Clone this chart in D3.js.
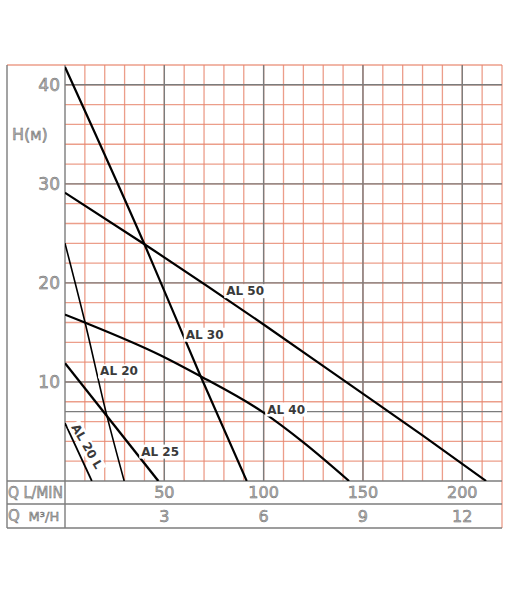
<!DOCTYPE html>
<html>
<head>
<meta charset="utf-8">
<script src="https://cdn.jsdelivr.net/npm/d3@7"></script>
<style>
  body { margin: 0; background: #fff; }
  text { font-family: "DejaVu Sans", sans-serif; }
  .tick-num { fill: #b4b4b4; stroke: #6a6a6a; stroke-width: 0.5px; }
  .curve-label { fill: #3a3a3a; font-weight: bold; font-size: 12px; }
</style>
</head>
<body>
<div id="chart"></div>
<script>
// pump curves, [Q l/min, H m]
const al50 = [[0, 29.1], [40, 23.9], [100, 15.8], [140, 10.2], [180, 4.6], [212, 0]];
const al30 = [[0, 41.8], [40, 23.9], [68, 10.7], [91.5, 0]];
const al40 = [[0, 16.8], [10, 16.0], [48, 12.7], [68, 10.6], [100, 6.9], [120, 3.9], [143, 0]];
const al20 = [[0, 24], [10.1, 16], [20.7, 6.9], [29.8, 0]];
const al25 = [[0, 11.9], [47, 0]];
const al20L = [[0, 5.85], [13.5, 0]];

const hTicks = [10, 20, 30, 40];
const hExtra = [7];
const qTicks = [50, 100, 150, 200];
const m3Ticks = ["3", "6", "9", "12"];

const series = [
  { name: "AL 50", pts: al50, w: 2.2 },
  { name: "AL 30", pts: al30, w: 2.2 },
  { name: "AL 40", pts: al40, w: 2.2 },
  { name: "AL 20", pts: al20, w: 1.6 },
  { name: "AL 25", pts: al25, w: 2.4 },
  { name: "AL 20 L", pts: al20L, w: 1.8 }
];

// label anchors in data units
const labels = [
  { text: "AL 50", q: 90.7, h: 19.2, rot: 0 },
  { text: "AL 30", q: 70.3, h: 14.8, rot: 0 },
  { text: "AL 40", q: 111.3, h: 7.25, rot: 0 },
  { text: "AL 20", q: 27.2, h: 11.1, rot: 0 },
  { text: "AL 25", q: 47.9, h: 3.0, rot: 0 },
  { text: "AL 20 L", q: 11.2, h: 3.5, rot: 60 }
];

const width = 510, height = 600;
const plotL = 65, plotR = 502, plotT = 65, plotB = 481;
const row1 = 504, row2 = 528, outerLeft = 7;

const svg = d3.select("#chart").append("svg")
  .attr("width", width)
  .attr("height", height);

const x = d3.scaleLinear().domain([0, 220]).range([plotL, plotR]);
const y = d3.scaleLinear().domain([0, 42]).range([plotB, plotT]);

const red = "#e8866e", dark = "#7c7c7c";

// red minor grid
svg.append("g")
  .selectAll("line")
  .data(d3.range(10, 221, 10))
  .join("line")
  .attr("x1", d => x(d)).attr("x2", d => x(d))
  .attr("y1", plotT).attr("y2", d => d === 220 ? row2 : plotB)
  .attr("stroke", red).attr("stroke-width", 1.3).attr("opacity", 0.8);

svg.append("g")
  .selectAll("line")
  .data(d3.range(2, 43, 2))
  .join("line")
  .attr("x1", d => d === 42 ? outerLeft : plotL).attr("x2", plotR)
  .attr("y1", d => y(d)).attr("y2", d => y(d))
  .attr("stroke", red).attr("stroke-width", 1.3).attr("opacity", 0.8);

// dark major grid
svg.append("g")
  .selectAll("line")
  .data(qTicks)
  .join("line")
  .attr("x1", d => x(d)).attr("x2", d => x(d))
  .attr("y1", plotT).attr("y2", plotB)
  .attr("stroke", dark).attr("stroke-width", 1.4);

svg.append("g")
  .selectAll("line")
  .data(hTicks.concat(hExtra))
  .join("line")
  .attr("x1", plotL).attr("x2", plotR)
  .attr("y1", d => y(d)).attr("y2", d => y(d))
  .attr("stroke", dark).attr("stroke-width", 1.4);

// frame and table
const frame = svg.append("g").attr("stroke", dark).attr("stroke-width", 1.4);
frame.append("line").attr("x1", outerLeft).attr("x2", outerLeft).attr("y1", plotT).attr("y2", row2);
frame.append("line").attr("x1", plotL).attr("x2", plotL).attr("y1", plotT).attr("y2", row2);
[plotB, row1, row2].forEach(v => {
  frame.append("line").attr("x1", outerLeft).attr("x2", plotR).attr("y1", v).attr("y2", v);
});

// curves
svg.append("clipPath").attr("id", "plot")
  .append("rect").attr("x", plotL).attr("y", plotT)
  .attr("width", plotR - plotL).attr("height", plotB - plotT);

const line = d3.line()
  .x(d => x(d[0]))
  .y(d => y(d[1]))
  .curve(d3.curveMonotoneX);

svg.append("g")
  .attr("clip-path", "url(#plot)")
  .selectAll("path")
  .data(series)
  .join("path")
  .attr("d", d => line(d.pts))
  .attr("fill", "none")
  .attr("stroke", "#000")
  .attr("stroke-width", d => d.w);

// curve labels with white knock-out
const lab = svg.append("g")
  .selectAll("g")
  .data(labels)
  .join("g")
  .attr("transform", d => `translate(${x(d.q)},${y(d.h)}) rotate(${d.rot})`);

lab.append("text")
  .attr("class", "curve-label")
  .attr("text-anchor", "middle")
  .attr("dy", "0.36em")
  .text(d => d.text);

lab.each(function() {
  const g = d3.select(this);
  const b = g.select("text").node().getBBox();
  g.insert("rect", "text")
    .attr("x", b.x - 2).attr("y", b.y)
    .attr("width", b.width + 4).attr("height", b.height)
    .attr("fill", "#fff");
});

// H axis numbers
svg.append("g")
  .selectAll("text")
  .data(hTicks)
  .join("text")
  .attr("class", "tick-num")
  .attr("x", plotL - 5)
  .attr("y", d => y(d))
  .attr("dy", "0.36em")
  .attr("text-anchor", "end")
  .attr("font-size", 17)
  .text(d => d);

const hTitle = svg.append("text")
  .attr("class", "tick-num")
  .attr("x", 12)
  .attr("y", y(35))
  .attr("dy", "0.36em")
  .attr("font-size", 16);
hTitle.append("tspan").text("H(");
hTitle.append("tspan").attr("font-size", 13).text("M");
hTitle.append("tspan").text(")");

// table rows
svg.append("g")
  .selectAll("text")
  .data(qTicks)
  .join("text")
  .attr("class", "tick-num")
  .attr("x", d => x(d))
  .attr("y", (plotB + row1) / 2)
  .attr("dy", "0.36em")
  .attr("text-anchor", "middle")
  .attr("font-size", 16)
  .text(d => d);

svg.append("g")
  .selectAll("text")
  .data(m3Ticks)
  .join("text")
  .attr("class", "tick-num")
  .attr("x", (d, i) => x(qTicks[i]))
  .attr("y", (row1 + row2) / 2)
  .attr("dy", "0.36em")
  .attr("text-anchor", "middle")
  .attr("font-size", 16)
  .text(d => d);

svg.append("text")
  .attr("class", "tick-num")
  .attr("x", outerLeft + 1)
  .attr("y", (plotB + row1) / 2)
  .attr("dy", "0.36em")
  .attr("font-size", 15)
  .attr("textLength", plotL - outerLeft - 3)
  .attr("lengthAdjust", "spacingAndGlyphs")
  .text("Q L/MIN");

const m3 = svg.append("text")
  .attr("class", "tick-num")
  .attr("x", outerLeft + 1)
  .attr("y", (row1 + row2) / 2)
  .attr("dy", "0.36em")
  .attr("font-size", 15);
m3.append("tspan").text("Q ");
m3.append("tspan").attr("dx", 4).attr("font-size", 13).text("M³/H");
</script>
</body>
</html>
